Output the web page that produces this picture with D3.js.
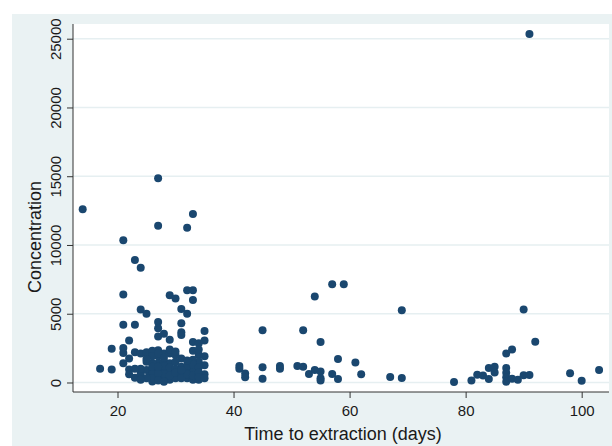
<!DOCTYPE html>
<html>
<head>
<meta charset="utf-8">
<script src="https://cdn.jsdelivr.net/npm/d3@7"></script>
<style>
  body { margin: 0; background: #fff; }
  text { font-family: Arial, "Liberation Sans", sans-serif; fill: #1a1a1a; }
</style>
</head>
<body>
<div id="chart"></div>
<script>
// time to extraction (days) and concentration
const days = [
  14, 27, 33, 27, 32, 21, 23, 24, 91,
  21, 24, 25, 21, 23, 22, 19, 21, 21, 23, 25, 17, 19, 21, 22, 22, 23, 24, 24, 25, 25, 25.5, 26,
  29, 30, 32, 33, 33, 31, 32, 27, 27, 27, 28, 29, 31, 31, 31, 35, 33, 35, 34, 31, 34, 34, 33,
  27, 27, 27, 27, 27, 26, 26, 28, 28, 28, 28, 29, 29, 29, 29, 30, 31, 32, 32, 33, 33, 34, 35, 35, 35,
  24, 25, 26, 26, 27, 28, 28, 28, 29, 29, 30, 30, 31, 31, 32, 32, 33, 33, 34, 34, 34, 35,
  26, 26, 27, 27, 25, 24, 24, 22, 23, 30, 32, 31, 26, 25, 28, 29, 30, 27, 30, 33, 34,
  41, 41, 42, 42, 45, 45, 45, 48, 48, 51, 52, 52, 53, 54, 54, 55, 55, 55, 55, 57, 59, 57, 58, 58, 61, 62, 67, 69, 69,
  78, 81, 82, 83, 84, 84, 85, 85, 87, 88, 87, 87, 87, 87, 88, 89, 90, 90, 91, 92, 98, 100, 103
];
const concentration = [
  12600, 14850, 12250, 11400, 11250, 10350, 8900, 8350, 25350,
  6400, 5300, 5000, 4200, 4200, 3050, 2450, 2500, 2150, 2200, 2100, 1000, 950, 1400, 1750, 950, 350, 450, 700, 1500, 900, 450, 80,
  6350, 6100, 6700, 6700, 6000, 5350, 5000, 4400, 3950, 3350, 3550, 3100, 4300, 3650, 3450, 3750, 2950, 3050, 2850, 1750, 2000, 1500, 1650,
  2350, 1900, 1400, 900, 400, 1400, 900, 2100, 1500, 900, 200, 2100, 1400, 800, 200, 300, 1150, 900, 300, 900, 200, 200, 1900, 1250, 600,
  2100, 2200, 2300, 1900, 2100, 1800, 1200, 600, 1100, 500, 1000, 700, 600, 300, 1200, 600, 1300, 500, 1100, 700, 400, 300,
  600, 300, 650, 150, 300, 1000, 200, 600, 1000, 1500, 1600, 900, 1150, 1700, 50, 2400, 2000, 1150, 2250, 2300, 2400,
  1200, 1000, 650, 380, 3800, 1100, 280, 1200, 1000, 1200, 3800, 1150, 620, 6250, 900, 2950, 800, 300, 150, 7150, 7150, 620, 1700, 250, 1450, 600, 400, 5250, 330,
  40, 150, 560, 500, 1050, 250, 1150, 720, 2100, 2400, 1050, 700, 380, 60, 280, 200, 5300, 520, 550, 2970, 670, 130, 900
];
const xTicks = [20, 40, 60, 80, 100];
const yTicks = [0, 5000, 10000, 15000, 20000, 25000];

const W = 612, H = 446;
const plotL = 73, plotR = 609, plotT = 24, plotB = 392;

const svg = d3.select('#chart').append('svg').attr('width', W).attr('height', H);

// graph region
svg.append('rect').attr('x', 12).attr('y', 14).attr('width', W - 12).attr('height', H - 14).attr('fill', '#eaf2f3');
svg.append('rect').attr('x', plotL).attr('y', plotT).attr('width', plotR - plotL).attr('height', plotB - plotT).attr('fill', '#fff');

const x = d3.scaleLinear().domain([12.33, 104.71]).range([plotL, plotR]);
const y = d3.scaleLinear().domain([-691, 26070]).range([plotB, plotT]);

// grid lines
svg.append('g').selectAll('line').data(yTicks).enter().append('line')
  .attr('x1', plotL).attr('x2', plotR)
  .attr('y1', d => y(d)).attr('y2', d => y(d))
  .attr('stroke', '#e6eff1').attr('stroke-width', 1.5);

// axes
const yAxis = svg.append('g').attr('transform', `translate(${plotL},0)`)
  .call(d3.axisLeft(y).tickValues(yTicks).tickSize(6).tickSizeOuter(0).tickFormat(d3.format('d')));
yAxis.select('.domain').attr('stroke', '#333').attr('d', `M0,${plotT}V${plotB}`);
yAxis.selectAll('.tick line').attr('stroke', '#333');
yAxis.selectAll('.tick text')
  .attr('x', 0).attr('dy', 0)
  .attr('transform', 'translate(-12,0) rotate(-90)')
  .attr('text-anchor', 'middle')
  .style('font-size', '15px').style('fill', '#1a1a1a');

const xAxis = svg.append('g').attr('transform', `translate(0,${plotB})`)
  .call(d3.axisBottom(x).tickValues(xTicks).tickSize(6).tickSizeOuter(0));
xAxis.select('.domain').attr('stroke', '#333').attr('d', `M${plotL},0H${plotR}`);
xAxis.selectAll('.tick line').attr('stroke', '#333');
xAxis.selectAll('.tick text').attr('y', 24).attr('dy', 0)
  .style('font-size', '15px').style('fill', '#1a1a1a');
svg.selectAll('.tick text').attr('font-family', null);

// points
svg.append('g').selectAll('circle').data(days).enter().append('circle')
  .attr('cx', d => x(d))
  .attr('cy', (d, i) => y(concentration[i]))
  .attr('r', 4)
  .attr('fill', '#1a476f');

// titles
svg.append('text').attr('x', 343).attr('y', 440).attr('text-anchor', 'middle')
  .style('font-size', '18px').text('Time to extraction (days)');
svg.append('text').attr('transform', 'translate(41,237) rotate(-90)').attr('text-anchor', 'middle')
  .style('font-size', '18px').text('Concentration');
</script>
</body>
</html>
